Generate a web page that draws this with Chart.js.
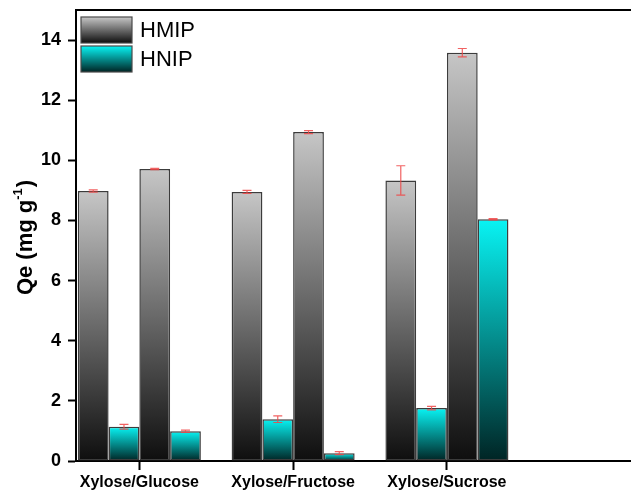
<!DOCTYPE html>
<html>
<head>
<meta charset="utf-8">
<script src="https://cdn.jsdelivr.net/npm/chart.js@4/dist/chart.umd.min.js"></script>
<style>
  html, body { margin: 0; padding: 0; background: #fff; overflow: hidden; }
  #wrap { width: 631px; height: 496px; position: relative; }
</style>
</head>
<body>
<div id="wrap"><canvas id="c" width="631" height="496"></canvas></div>
<script>
// Adsorption capacity Qe (mg g-1) in binary sugar mixtures
const categories = ['Xylose/Glucose', 'Xylose/Fructose', 'Xylose/Sucrose'];
const seriesNames = ['HMIP', 'HNIP'];

// first bar pair of each group: xylose uptake
const hmipXylose = [8.98, 8.95, 9.33];
const hnipXylose = [1.14, 1.39, 1.76];
// second bar pair of each group: the partner sugar
const hmipPartner = [9.71, 10.94, 13.58];
const hnipPartner = [0.99, 0.26, 8.04];

// standard deviations
const hmipXyloseErr = [0.04, 0.05, 0.49];
const hnipXyloseErr = [0.08, 0.11, 0.06];
const hmipPartnerErr = [0.02, 0.05, 0.14];
const hnipPartnerErr = [0.04, 0.05, 0.02];

const yTicks = [0, 2, 4, 6, 8, 10, 12, 14];
const xPositions = [1, 2, 3];

const FONT = "'Liberation Sans', Arial, Helvetica, sans-serif";

const grayStops = ['#c6c6c6', '#0e0e0e'];
const cyanStops = ['#08f4f4', '#002424'];

function barGradient(stops) {
  return function (ctx) {
    const chart = ctx.chart;
    if (!chart.chartArea || !ctx.parsed) return stops[0];
    const ys = chart.scales.y;
    const top = ys.getPixelForValue(ctx.parsed.y);
    const bot = ys.getPixelForValue(0);
    if (!isFinite(top) || !isFinite(bot) || bot - top < 0.5) return stops[1];
    const g = chart.ctx.createLinearGradient(0, top, 0, bot);
    g.addColorStop(0, stops[0]);
    g.addColorStop(1, stops[1]);
    return g;
  };
}

function toPoints(values) {
  return values.map((v, i) => ({ x: xPositions[i], y: v }));
}

function makeSet(label, values, errs, stops) {
  return {
    label: label,
    data: toPoints(values),
    errors: errs,
    gradientStops: stops,
    backgroundColor: barGradient(stops),
    borderColor: '#3c3c3c',
    borderWidth: 1.5,
    borderSkipped: false
  };
}

// red error bars with caps
const errorBars = {
  id: 'errorBars',
  afterDatasetsDraw(chart) {
    const c = chart.ctx;
    const ys = chart.scales.y;
    c.save();
    c.strokeStyle = 'rgba(238, 70, 70, 0.85)';
    c.lineWidth = 1.2;
    chart.data.datasets.forEach((ds, di) => {
      const meta = chart.getDatasetMeta(di);
      meta.data.forEach((bar, i) => {
        const v = ds.data[i].y;
        const e = ds.errors[i];
        const yHi = ys.getPixelForValue(v + e);
        const yLo = ys.getPixelForValue(v - e);
        const x = bar.x;
        const cap = 4.5;
        c.beginPath();
        c.moveTo(x, yHi); c.lineTo(x, yLo);
        c.moveTo(x - cap, yHi); c.lineTo(x + cap, yHi);
        c.moveTo(x - cap, yLo); c.lineTo(x + cap, yLo);
        c.stroke();
      });
    });
    c.restore();
  }
};

// frame top line, legend inside the plot, rotated y title
const decorations = {
  id: 'decorations',
  afterDraw(chart) {
    const c = chart.ctx;
    const a = chart.chartArea;
    c.save();

    // top frame line
    c.fillStyle = '#000';
    c.fillRect(a.left - 1, a.top - 1, a.right - a.left + 1, 2);

    // legend
    const boxX = a.left + 5, boxW = 51, boxH = 26;
    const rows = [a.top + 7, a.top + 36];
    [0, 1].forEach((k) => {
      const ds = chart.data.datasets[k];
      const y0 = rows[k];
      const g = c.createLinearGradient(0, y0, 0, y0 + boxH);
      g.addColorStop(0, ds.gradientStops[0]);
      g.addColorStop(1, ds.gradientStops[1]);
      c.fillStyle = g;
      c.fillRect(boxX, y0, boxW, boxH);
      c.strokeStyle = '#4a4a4a';
      c.lineWidth = 1.2;
      c.strokeRect(boxX, y0, boxW, boxH);
      c.fillStyle = '#000';
      c.font = '22px ' + FONT;
      c.textAlign = 'left';
      c.textBaseline = 'middle';
      c.fillText(ds.label, boxX + boxW + 8, y0 + boxH / 2 + 1);
    });

    // y axis title
    const main = 'Qe (mg g';
    const sup = '-1';
    const close = ')';
    c.translate(26, (a.top + a.bottom) / 2 + 2);
    c.rotate(-Math.PI / 2);
    c.fillStyle = '#000';
    c.textBaseline = 'middle';
    c.textAlign = 'left';
    c.font = 'bold 22px ' + FONT;
    const w1 = c.measureText(main).width;
    const w3 = c.measureText(close).width;
    c.font = 'bold 13px ' + FONT;
    const w2 = c.measureText(sup).width;
    const total = w1 + w2 + w3 + 1;
    let x = -total / 2;
    c.font = 'bold 22px ' + FONT;
    c.fillText(main, x, 0);
    x += w1;
    c.font = 'bold 13px ' + FONT;
    c.fillText(sup, x, -8);
    x += w2 + 1;
    c.font = 'bold 22px ' + FONT;
    c.fillText(close, x, 0);
    c.restore();
  }
};

new Chart(document.getElementById('c'), {
  type: 'bar',
  data: {
    datasets: [
      makeSet(seriesNames[0], hmipXylose, hmipXyloseErr, grayStops),
      makeSet(seriesNames[1], hnipXylose, hnipXyloseErr, cyanStops),
      makeSet(seriesNames[0], hmipPartner, hmipPartnerErr, grayStops),
      makeSet(seriesNames[1], hnipPartner, hnipPartnerErr, cyanStops)
    ]
  },
  options: {
    responsive: false,
    animation: false,
    events: [],
    layout: { padding: { top: 10, right: 0, left: 0, bottom: 0 } },
    datasets: { bar: { categoryPercentage: 0.8, barPercentage: 1.0, grouped: true } },
    plugins: { legend: { display: false }, tooltip: { enabled: false } },
    scales: {
      x: {
        type: 'linear',
        offset: false,
        bounds: 'data',
        min: 0.588,
        max: 4.197,
        afterBuildTicks(s) { s.ticks = xPositions.map(v => ({ value: v })); },
        afterFit(s) { s.height = 35; s.paddingLeft = 0; s.paddingRight = 0; },
        ticks: {
          callback: (v) => categories[xPositions.indexOf(v)] || '',
          color: '#000',
          font: { family: FONT, size: 16, weight: 'bold' },
          padding: 3,
          maxRotation: 0,
          autoSkip: false
        },
        grid: {
          display: true,
          offset: false,
          drawOnChartArea: false,
          drawTicks: true,
          tickLength: 9,
          tickWidth: 2,
          tickColor: '#000'
        },
        border: { display: true, color: '#000', width: 2 }
      },
      y: {
        min: 0,
        max: 15,
        afterBuildTicks(s) { s.ticks = yTicks.map(v => ({ value: v })); },
        afterFit(s) { s.width = 76; s.paddingTop = 0; s.paddingBottom = 0; },
        ticks: {
          color: '#000',
          font: { family: FONT, size: 18, weight: 'bold' },
          padding: 7
        },
        grid: {
          display: true,
          drawOnChartArea: false,
          drawTicks: true,
          tickLength: 8,
          tickWidth: 2,
          tickColor: '#000'
        },
        border: { display: true, color: '#000', width: 2 }
      }
    }
  },
  plugins: [errorBars, decorations]
});
</script>
</body>
</html>
